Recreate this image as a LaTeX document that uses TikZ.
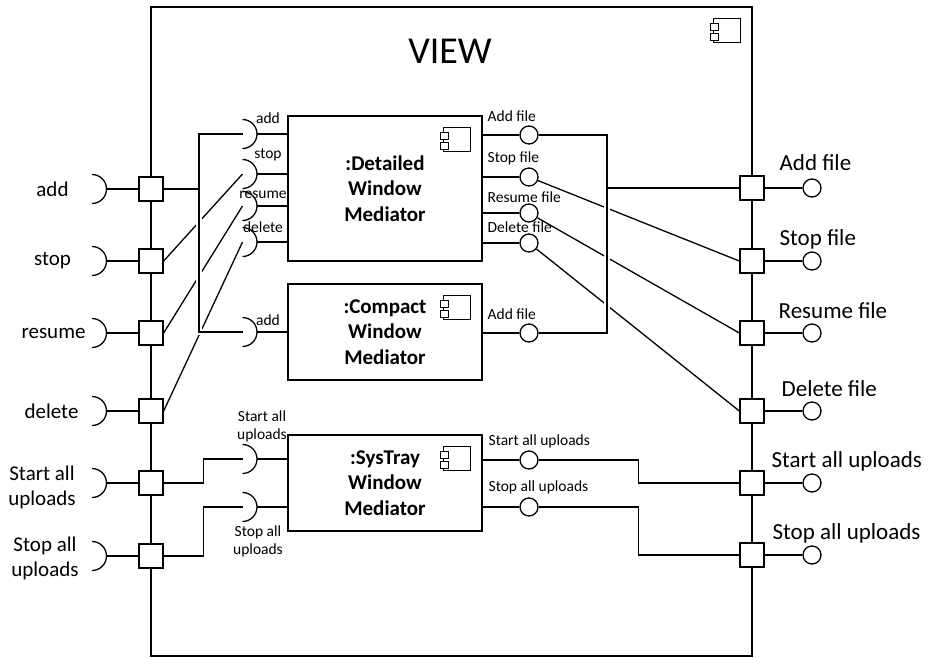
\documentclass[tikz,border=0pt]{standalone}
\usepackage{fontspec}
\setmainfont{Carlito}
\usetikzlibrary{calc}

\begin{document}
\begin{tikzpicture}[x=1pt,y=-1pt, line width=1.3pt, every node/.style={inner sep=0pt},
  port/.style={draw,fill=white,minimum size=24pt},
  ball/.style={draw,fill=white,circle,minimum size=18pt},
  comp/.style={draw,minimum width=194pt,align=center,font=\fontsize{21}{25.5}\selectfont\bfseries},
  lbl/.style={font=\fontsize{15.5}{18}\selectfont,align=center},
  biglbl/.style={font=\fontsize{21}{25}\selectfont,align=center},
  outlbl/.style={font=\fontsize{23}{27}\selectfont,anchor=west},
  balllbl/.style={font=\fontsize{15.5}{18}\selectfont,anchor=west},
  jump/.style={preaction={draw=white,line width=6pt,shorten <=4pt,shorten >=4pt}},
  sock/.pic={\draw (0,-14.5) arc[start angle=-90,end angle=90,radius=14.5];
    \coordinate (-tip) at (14.5,0); \coordinate (-c) at (0,0);},
  icon/.pic={\draw (-39,12) rectangle (-12,36);
    \draw[fill=white] (-42,17) rectangle (-34,24) (-42,27) rectangle (-34,34);}]
\useasboundingbox (0,0) rectangle (930,657);
\node[draw,line width=1.5pt,minimum width=601pt,minimum height=649pt] (view) at (451.5,331.5) {};
\node[font=\fontsize{38}{40}\selectfont] (title) at (450,51) {VIEW};
\pic at (view.north east) {icon};
% inner components
\node[comp,minimum height=145pt] (det) at (385,188.5) {:Detailed\\Window\\Mediator};
\node[comp,minimum height=96pt] (cmp) at (385,332) {:Compact\\Window\\Mediator};
\node[comp,minimum height=96pt] (sys) at (385,483) {:SysTray\\Window\\Mediator};
\pic at (det.north east) {icon};
\pic at (cmp.north east) {icon};
\pic at (sys.north east) {icon};
% ports on the left
\node[port] (pAdd) at (151,189) {};
\node[port] (pStop) at (151,261) {};
\node[port] (pRes) at (151,333) {};
\node[port] (pDel) at (151,411) {};
\node[port] (pStart) at (151,483) {};
\node[port] (pHalt) at (151,556) {};
\pic (iAdd) at (92,189) {sock};
\pic (iStop) at (92,261) {sock};
\pic (iRes) at (92,333) {sock};
\pic (iDel) at (92,411) {sock};
\pic (iStart) at (92,483) {sock};
\pic (iHalt) at (92,556) {sock};
\node[biglbl] (lAdd) at (52.5,189) {add};
\node[biglbl] (lStop) at (52.5,261) {stop};
\node[biglbl] (lRes) at (53.5,333) {resume};
\node[biglbl] (lDel) at (51.5,411) {delete};
\node[biglbl] (lStart) at (42,487) {Start all\\uploads};
\node[biglbl] (lHalt) at (45,558) {Stop all\\uploads};
% ports on the right
\node[port] (qAdd) at (752,188) {};
\node[port] (qStop) at (752,261) {};
\node[port] (qRes) at (752,333) {};
\node[port] (qDel) at (752,411) {};
\node[port] (qStart) at (752,483) {};
\node[port] (qHalt) at (752,555) {};
\node[ball] (oAdd) at (812,188) {};
\node[ball] (oStop) at (812,261) {};
\node[ball] (oRes) at (812,333) {};
\node[ball] (oDel) at (812,411) {};
\node[ball] (oStart) at (812,483) {};
\node[ball] (oHalt) at (812,555) {};
\node[outlbl] (rAdd) at (779,163) {Add file};
\node[outlbl] (rStop) at (779,239) {Stop file};
\node[outlbl] (rRes) at (778,311) {Resume file};
\node[outlbl] (rDel) at (781,389) {Delete file};
\node[outlbl] (rStart) at (771,461) {Start all uploads};
\node[outlbl] (rHalt) at (772,533) {Stop all uploads};
% required interfaces of the mediators
\pic (dA) at (242.5,134) {sock};
\pic (dS) at (242.5,174) {sock};
\pic (dR) at (242.5,206) {sock};
\pic (dD) at (242.5,242) {sock};
\pic (cA) at (242.5,332) {sock};
\pic (sU) at (242.5,459) {sock};
\pic (sH) at (242.5,507) {sock};
\node[lbl] (tA) at (268,118) {add};
\node[lbl] (tS) at (268,155) {stop};
\node[lbl] (tR) at (263,195) {resume};
\node[lbl] (tD) at (263,227) {delete};
\node[lbl] (tC) at (268,320) {add};
\node[lbl] (tU) at (262,426) {Start all\\uploads};
\node[lbl] (tH) at (258,541) {Stop all\\uploads};
% provided interfaces of the mediators
\node[ball] (bA) at (529,135) {};
\node[ball] (bS) at (529,177) {};
\node[ball] (bR) at (529,213) {};
\node[ball] (bD) at (529,243) {};
\node[ball] (cB) at (529,333) {};
\node[ball] (sB1) at (529,460) {};
\node[ball] (sB2) at (529,507) {};
\node[balllbl] (uA) at (487,116) {Add file};
\node[balllbl] (uS) at (487,158) {Stop file};
\node[balllbl] (uR) at (487,197) {Resume file};
\node[balllbl] (uD) at (487,227) {Delete file};
\node[balllbl] (uC) at (487,314) {Add file};
\node[balllbl] (uU) at (488,441) {Start all uploads};
\node[balllbl] (uH) at (488,487) {Stop all uploads};
\draw (dA-tip) -- (dA-tip -| det.west);
\draw (dS-tip) -- (dS-tip -| det.west);
\draw (dR-tip) -- (dR-tip -| det.west);
\draw (dD-tip) -- (dD-tip -| det.west);
\draw (cA-tip) -- (cA-tip -| cmp.west);
\draw (sU-tip) -- (sU-tip -| sys.west);
\draw (sH-tip) -- (sH-tip -| sys.west);
\draw (det.east |- bA) -- (bA); \draw (det.east |- bS) -- (bS);
\draw (det.east |- bR) -- (bR); \draw (det.east |- bD) -- (bD);
\draw (cmp.east |- cB) -- (cB);
\draw (sys.east |- sB1) -- (sB1); \draw (sys.east |- sB2) -- (sB2);
% outer ports
\draw (iAdd-tip) -- (pAdd); \draw (iStop-tip) -- (pStop); \draw (iRes-tip) -- (pRes);
\draw (iDel-tip) -- (pDel); \draw (iStart-tip) -- (pStart); \draw (iHalt-tip) -- (pHalt);
\draw (qAdd) -- (oAdd); \draw (qStop) -- (oStop); \draw (qRes) -- (oRes);
\draw (qDel) -- (oDel); \draw (qStart) -- (oStart); \draw (qHalt) -- (oHalt);
% delegation
\draw (pStop.east) -- (dS-c);
\draw (pRes.east) -- (dR-c);
\draw (pDel.east) -- (dD-c);
\draw (bS) -- (qStop.west);
\draw (bR) -- (qRes.west);
\draw (bD) -- (qDel.west);
\coordinate (busT) at (199,134);
\coordinate (busB) at (199,332);
\draw[jump] (dA-c) -- (busT) -- (busB) -- (cA-c);
\draw (pAdd) -- (pAdd -| busT);
\coordinate (rbT) at (607,135);
\coordinate (rbB) at (607,333);
\draw[jump] (bA) -- (rbT) -- (rbB) -- (cB);
\draw (rbT |- qAdd) -- (qAdd.west);
\draw (pStart.east) -- ++(40,0) |- (sU-c);
\draw (pHalt.east) -- ++(40,0) |- (sH-c);
\draw (sB1.east) -- ++(100,0) |- (qStart.west);
\draw (sB2.east) -- ++(100,0) |- (qHalt.west);
\end{tikzpicture}
\end{document}
